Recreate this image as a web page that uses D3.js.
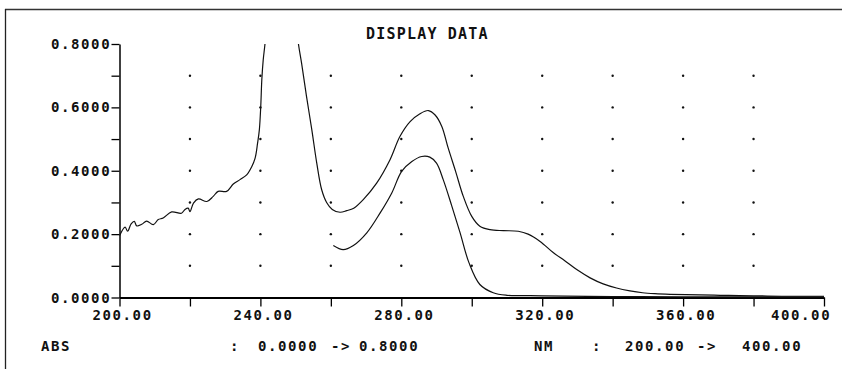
<!DOCTYPE html>
<html>
<head>
<meta charset="utf-8">
<script src="https://cdn.jsdelivr.net/npm/d3@7"></script>
<style>
  body { margin: 0; background: #fff; }
  text { font-family: "DejaVu Sans Mono", monospace; font-weight: bold; fill: #111; }
</style>
</head>
<body>
<div id="chart"></div>
<script>
// wavelength (nm) and absorbance
var upperNm = [200, 201.6, 202.3, 203.3, 204.2, 204.9, 206.3, 207.7, 209.6, 211, 212.4, 214.8, 217.6, 218.6, 219.5, 220,
  221, 222.4, 224.8, 226.6, 228, 230.4, 232.3, 234.2, 236.1, 237.5, 238.5, 239.2, 239.7, 240.1, 240.4, 240.8, 241.3,
  242.5, 244, 246, 248, 249.8, 250.8, 251.7, 253.1, 254.6, 256, 257.4, 258.8, 260.4, 262.6, 264.5, 266.5, 269.2,
  273, 276.8, 279.6, 282.5, 285.3, 287.7, 289.6, 291.5, 293.3, 295.5, 297.6, 300, 302.3, 305.2, 309, 313.2, 316,
  319.4, 323.2, 326.4, 329.8, 333.6, 337.3, 341.1, 344.9, 348.5, 352, 356.3, 364.8, 370.5, 376, 382, 388, 394, 400];
var upperAbs = [0.195, 0.222, 0.209, 0.232, 0.240, 0.226, 0.231, 0.241, 0.230, 0.246, 0.251, 0.270, 0.266, 0.278, 0.282, 0.271,
  0.298, 0.311, 0.303, 0.319, 0.335, 0.335, 0.358, 0.372, 0.387, 0.412, 0.440, 0.487, 0.529, 0.603, 0.687, 0.750, 0.800,
  0.950, 1.250, 1.450, 1.200, 0.900, 0.800, 0.739, 0.634, 0.529, 0.424, 0.340, 0.300, 0.278, 0.269, 0.274, 0.282, 0.309,
  0.361, 0.435, 0.508, 0.555, 0.580, 0.590, 0.576, 0.540, 0.472, 0.395, 0.319, 0.256, 0.225, 0.214, 0.211, 0.209, 0.200,
  0.177, 0.141, 0.116, 0.088, 0.062, 0.043, 0.030, 0.021, 0.015, 0.012, 0.010, 0.008, 0.007, 0.006, 0.005, 0.004, 0.004, 0.004];

var lowerNm = [260.7, 263.5, 266.4, 270.2, 274, 277.3, 280.1, 283, 285.8, 288.1, 290, 291.9, 294.3, 296.7, 299.2,
  302.3, 306.1, 310, 315, 320, 340, 360, 380, 400];
var lowerAbs = [0.164, 0.151, 0.164, 0.204, 0.267, 0.330, 0.398, 0.429, 0.445, 0.443, 0.424, 0.372, 0.290, 0.204, 0.110,
  0.041, 0.015, 0.007, 0.006, 0.005, 0.003, 0.002, 0.002, 0.002];

var xTicks = [200, 220, 240, 260, 280, 300, 320, 340, 360, 380, 400];
var xLabelValues = [200, 240, 280, 320, 360, 400];
var yTicks = [0, 0.1, 0.2, 0.3, 0.4, 0.5, 0.6, 0.7, 0.8];
var yLabelValues = [0, 0.2, 0.4, 0.6, 0.8];
var dotCols = [220, 240, 260, 280, 300, 320, 340, 360, 380];
var dotRows = [0.1, 0.2, 0.3, 0.4, 0.5, 0.6, 0.7];

var width = 846, height = 369;
var svg = d3.select('#chart').append('svg').attr('width', width).attr('height', height);

var x = d3.scaleLinear().domain([200, 400]).range([119.5, 824]);
var y = d3.scaleLinear().domain([0, 0.8]).range([297.5, 44]);

// frame (top and left edges only show in the scan)
svg.append('line').attr('x1', 5).attr('x2', 842).attr('y1', 9.5).attr('y2', 9.5)
  .attr('stroke', '#333').attr('stroke-width', 1.3);
svg.append('line').attr('x1', 5.5).attr('x2', 5.5).attr('y1', 9).attr('y2', height)
  .attr('stroke', '#222').attr('stroke-width', 1.3);

svg.append('text').attr('x', 366).attr('y', 38.5).style('font-size', '15px')
  .style('letter-spacing', '1.2px').text('DISPLAY DATA');

// dotted grid
var dots = [];
dotCols.forEach(function(c) { dotRows.forEach(function(r) { dots.push([c, r]); }); });
svg.append('g').selectAll('circle').data(dots).enter().append('circle')
  .attr('cx', function(d) { return x(d[0]); })
  .attr('cy', function(d) { return y(d[1]); })
  .attr('r', 1.2).attr('fill', '#111');

// axes
var yAxis = d3.axisLeft(y).tickValues(yTicks).tickSize(8).tickSizeOuter(0).tickFormat('');
var gy = svg.append('g').attr('transform', 'translate(119.5,0)').call(yAxis);
var xAxis = d3.axisBottom(x).tickValues(xTicks).tickSize(9).tickSizeOuter(0).tickFormat('');
var gx = svg.append('g').attr('transform', 'translate(0,297.5)').call(xAxis);
gx.select('.domain').attr('stroke-width', 2);
gy.select('.domain').attr('stroke-width', 1.5);
svg.selectAll('.tick line').attr('stroke-width', 1.3);

svg.append('g').selectAll('text').data(yLabelValues).enter().append('text')
  .attr('x', 51).attr('y', function(d) { return y(d) + 5; })
  .style('font-size', '14px').style('letter-spacing', '1.6px')
  .text(function(d) { return d.toFixed(4); });

svg.append('g').selectAll('text').data(xLabelValues).enter().append('text')
  .attr('x', function(d) { return Math.min(x(d) + 3 - 30, 771); })
  .attr('y', 320)
  .style('font-size', '14px').style('letter-spacing', '1.6px')
  .text(function(d) { return d.toFixed(2); });

// footer
var footer = [['ABS', 41], [':', 230], ['0.0000', 258], ['->', 331], ['0.8000', 359],
  ['NM', 534], [':', 592], ['200.00', 625], ['->', 697], ['400.00', 742]];
svg.append('g').selectAll('text').data(footer).enter().append('text')
  .attr('x', function(d) { return d[1]; }).attr('y', 351)
  .style('font-size', '14px').style('letter-spacing', '1.6px')
  .text(function(d) { return d[0]; });

// curves, clipped at the top of the scale
svg.append('clipPath').attr('id', 'plot').append('rect')
  .attr('x', 119.5).attr('y', 44).attr('width', 710).attr('height', 260);

var line = d3.line()
  .x(function(d) { return x(d[0]); })
  .y(function(d) { return y(d[1]); })
  .curve(d3.curveCatmullRom.alpha(0.5));

svg.append('path').datum(d3.zip(upperNm, upperAbs)).attr('clip-path', 'url(#plot)')
  .attr('d', line).attr('fill', 'none').attr('stroke', '#111').attr('stroke-width', 1.2);
svg.append('path').datum(d3.zip(lowerNm, lowerAbs)).attr('clip-path', 'url(#plot)')
  .attr('d', line).attr('fill', 'none').attr('stroke', '#111').attr('stroke-width', 1.2);
</script>
</body>
</html>
